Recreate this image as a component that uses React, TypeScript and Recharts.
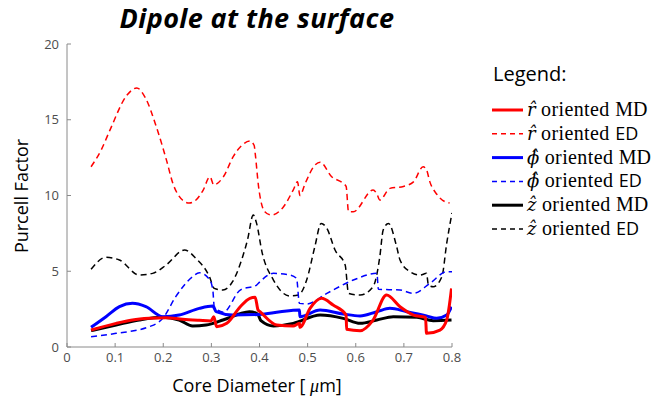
import React from "react";
import { LineChart, Line, XAxis, YAxis } from "recharts";

// ---- data ----
const xTicks = [0, 0.1, 0.2, 0.3, 0.4, 0.5, 0.6, 0.7, 0.8];
const yTicks = [0, 5, 10, 15, 20];

// r-hat oriented MD (red solid)
const rMdX = [0.05, 0.102, 0.136, 0.171, 0.206, 0.24, 0.275, 0.299, 0.305, 0.311, 0.332, 0.36, 0.38, 0.391, 0.397, 0.401, 0.436, 0.47, 0.483, 0.484, 0.505, 0.529, 0.553, 0.58, 0.581, 0.609, 0.636, 0.664, 0.692, 0.72, 0.745, 0.747, 0.775, 0.789, 0.799];
const rMdY = [1.12, 1.56, 1.78, 1.89, 1.93, 1.83, 1.76, 1.72, 2.0, 1.34, 1.56, 2.66, 3.21, 3.28, 2.44, 2.33, 1.45, 1.39, 1.56, 1.3, 2.55, 3.21, 2.77, 2.11, 1.17, 1.08, 1.78, 3.43, 2.66, 2.11, 1.96, 0.9, 1.12, 1.78, 3.87];

// r-hat oriented ED (red dashed)
const rEdX = [0.05, 0.071, 0.089, 0.124, 0.145, 0.162, 0.186, 0.207, 0.22, 0.24, 0.254, 0.268, 0.283, 0.297, 0.305, 0.325, 0.346, 0.363, 0.38, 0.389, 0.391, 0.398, 0.411, 0.425, 0.45, 0.47, 0.479, 0.484, 0.495, 0.515, 0.526, 0.55, 0.574, 0.58, 0.585, 0.595, 0.636, 0.644, 0.65, 0.671, 0.699, 0.72, 0.74, 0.747, 0.754, 0.768, 0.785, 0.795];
const rEdY = [11.9, 13.0, 14.3, 16.6, 17.1, 16.5, 14.5, 12.3, 10.8, 9.7, 9.5, 9.7, 10.36, 11.24, 10.7, 11.24, 12.6, 13.3, 13.6, 13.3, 12.8, 10.6, 8.93, 8.71, 9.26, 10.36, 10.9, 10.0, 10.8, 12.0, 12.2, 11.24, 10.8, 10.6, 8.93, 8.93, 10.36, 10.1, 9.7, 10.47, 10.6, 10.9, 11.9, 11.7, 10.9, 10.1, 9.6, 9.5];

// phi-hat oriented MD (blue solid)
const pMdX = [0.05, 0.081, 0.109, 0.136, 0.164, 0.199, 0.233, 0.275, 0.303, 0.31, 0.344, 0.4, 0.443, 0.483, 0.484, 0.526, 0.574, 0.609, 0.644, 0.671, 0.706, 0.747, 0.768, 0.789, 0.799];
const pMdY = [1.3, 2.0, 2.66, 2.88, 2.66, 2.0, 2.11, 2.55, 2.7, 2.33, 2.11, 2.15, 2.33, 2.44, 2.0, 2.44, 2.18, 2.05, 2.33, 2.55, 2.33, 2.05, 1.89, 2.11, 2.66];

// phi-hat oriented ED (blue dashed)
const pEdX = [0.05, 0.102, 0.171, 0.199, 0.226, 0.261, 0.275, 0.296, 0.303, 0.306, 0.325, 0.36, 0.394, 0.401, 0.429, 0.463, 0.477, 0.483, 0.498, 0.54, 0.595, 0.644, 0.647, 0.692, 0.72, 0.754, 0.789, 0.8];
const pEdY = [0.68, 0.9, 1.34, 1.89, 3.32, 4.64, 4.9, 4.46, 3.76, 2.66, 2.3, 3.76, 4.09, 4.31, 4.86, 4.75, 4.53, 2.88, 2.84, 3.54, 4.42, 4.86, 3.81, 3.76, 3.54, 4.2, 4.97, 4.97];

// z-hat oriented MD (black solid)
const zMdX = [0.05, 0.102, 0.15, 0.199, 0.233, 0.261, 0.289, 0.324, 0.358, 0.379, 0.396, 0.403, 0.429, 0.47, 0.526, 0.574, 0.609, 0.644, 0.678, 0.727, 0.761, 0.799];
const zMdY = [1.08, 1.45, 1.78, 1.96, 1.78, 1.39, 1.45, 1.78, 2.18, 2.33, 2.18, 1.74, 1.39, 1.56, 2.11, 1.89, 1.56, 1.78, 2.0, 1.96, 1.74, 1.78];

// z-hat oriented ED (black dashed)
const zEdX = [0.05, 0.081, 0.109, 0.15, 0.178, 0.206, 0.244, 0.268, 0.296, 0.306, 0.324, 0.344, 0.365, 0.375, 0.387, 0.394, 0.405, 0.429, 0.463, 0.481, 0.498, 0.515, 0.528, 0.54, 0.557, 0.578, 0.585, 0.609, 0.636, 0.65, 0.657, 0.668, 0.685, 0.692, 0.713, 0.734, 0.747, 0.751, 0.761, 0.779, 0.789, 0.8];
const zEdY = [5.13, 5.92, 5.74, 4.75, 4.86, 5.41, 6.4, 5.85, 4.64, 3.87, 3.76, 4.31, 5.96, 7.06, 8.71, 8.16, 6.3, 4.42, 3.37, 3.43, 4.42, 6.62, 8.16, 7.83, 6.4, 5.41, 3.54, 3.43, 3.98, 5.96, 7.72, 8.16, 6.62, 5.74, 4.97, 4.75, 4.86, 4.09, 3.98, 4.64, 6.84, 8.85];

const zip = (xs: number[], ys: number[]) => xs.map((x, i) => ({ x, y: ys[i] }));

const series = [
  { key: "zEd", data: zip(zEdX, zEdY), color: "#000000", dashed: true },
  { key: "pEd", data: zip(pEdX, pEdY), color: "#0000ff", dashed: true },
  { key: "rEd", data: zip(rEdX, rEdY), color: "#ff0000", dashed: true },
  { key: "zMd", data: zip(zMdX, zMdY), color: "#000000", dashed: false },
  { key: "pMd", data: zip(pMdX, pMdY), color: "#0000ff", dashed: false },
  { key: "rMd", data: zip(rMdX, rMdY), color: "#ff0000", dashed: false },
];

const legendItems = [
  { sym: "r\u0302", color: "#ff0000", dashed: false, kind: "MD" },
  { sym: "r\u0302", color: "#ff0000", dashed: true, kind: "ED" },
  { sym: "\u03D5\u0302", color: "#0000ff", dashed: false, kind: "MD" },
  { sym: "\u03D5\u0302", color: "#0000ff", dashed: true, kind: "ED" },
  { sym: "z\u0302", color: "#000000", dashed: false, kind: "MD" },
  { sym: "z\u0302", color: "#000000", dashed: true, kind: "ED" },
];

const axisColor = "#8a8a8a";
const tickStyle = { fill: "#4d4d4d", fontSize: 13, fontFamily: "Open Sans, sans-serif" };
const serif = "Liberation Serif, serif";

export default function App() {
  return (
    <div style={{ position: "absolute", left: 0, top: 0, width: 654, height: 401, background: "#fff" }}>
      <LineChart
        width={654}
        height={401}
        margin={{ top: 44, right: 202, bottom: 0, left: 17 }}
      >
        <XAxis
          xAxisId="b"
          type="number"
          dataKey="x"
          domain={[0, 0.8]}
          ticks={xTicks}
          allowDataOverflow
          height={54}
          stroke={axisColor}
          tickSize={-4}
          tickMargin={10}
          tick={tickStyle}
        />
        <XAxis
          xAxisId="t"
          orientation="top"
          type="number"
          dataKey="x"
          domain={[0, 0.8]}
          ticks={xTicks}
          height={0}
          stroke={axisColor}
          tickSize={-4}
          tick={false}
        />
        <YAxis
          yAxisId="l"
          type="number"
          domain={[0, 20]}
          ticks={yTicks}
          width={50}
          stroke={axisColor}
          tickSize={-4}
          tickMargin={12}
          tick={tickStyle}
        />
        <YAxis
          yAxisId="r"
          orientation="right"
          type="number"
          domain={[0, 20]}
          ticks={yTicks}
          width={0}
          stroke={axisColor}
          tickSize={-4}
          tick={false}
        />
        {series.map((s) => (
          <Line
            key={s.key}
            xAxisId="b"
            yAxisId="l"
            data={s.data}
            dataKey="y"
            type="monotone"
            stroke={s.color}
            strokeWidth={s.dashed ? 1.5 : 3}
            strokeDasharray={s.dashed ? "6 4" : undefined}
            dot={false}
            activeDot={false}
            isAnimationActive={false}
          />
        ))}
      </LineChart>
      <svg
        width={654}
        height={401}
        style={{ position: "absolute", left: 0, top: 0, pointerEvents: "none" }}
      >
        <text
          x={257}
          y={28}
          textAnchor="middle"
          fontFamily="Open Sans, sans-serif"
          fontWeight="bold"
          fontStyle="italic"
          fontSize={27}
          letterSpacing={0.4}
          fill="#000"
        >
          Dipole at the surface
        </text>
        <text
          x={28}
          y={196}
          textAnchor="middle"
          transform="rotate(-90 28 196)"
          fontFamily="Open Sans, sans-serif"
          fontSize={18}
          fill="#000"
        >
          Purcell Factor
        </text>
        <text
          x={257}
          y={392}
          textAnchor="middle"
          fontFamily="Open Sans, sans-serif"
          fontSize={18}
          fill="#000"
        >
          Core Diameter [ <tspan fontFamily={serif} fontStyle="italic">μ</tspan>m]
        </text>
        <text x={493} y={81} fontFamily="Open Sans, sans-serif" fontSize={20} fill="#000">
          Legend:
        </text>
        {legendItems.map((it, i) => {
          const cy = 110 + i * 23.8;
          return (
            <g key={i}>
              <line
                x1={492}
                x2={523}
                y1={cy}
                y2={cy}
                stroke={it.color}
                strokeWidth={it.dashed ? 1.5 : 3}
                strokeDasharray={it.dashed ? "5 4" : undefined}
              />
              <text x={527} y={cy + 6} fontFamily={serif} fontSize={20} fill="#000">
                <tspan fontFamily="DejaVu Serif, serif" fontStyle="italic" fontSize={18}>{it.sym}</tspan>
                <tspan letterSpacing={0.4}> oriented </tspan>
                {it.kind === "MD" ? (
                  <tspan>MD</tspan>
                ) : (
                  <tspan fontFamily="Open Sans, sans-serif" fontSize={18}>ED</tspan>
                )}
              </text>
            </g>
          );
        })}
      </svg>
    </div>
  );
}
